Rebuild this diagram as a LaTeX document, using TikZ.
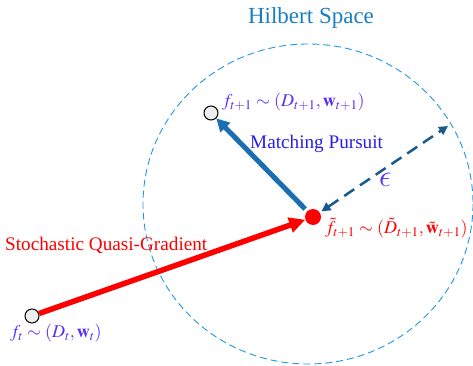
\documentclass[tikz,border=0pt]{standalone}
\usepackage{mathptmx}
\DeclareSymbolFont{lmletters}{OML}{cmm}{m}{it}
\DeclareMathSymbol{\lunateeps}{\mathord}{lmletters}{"0F}
\usepackage{fontspec}
\setmainfont{Liberation Serif}
\usetikzlibrary{arrows.meta}
\definecolor{hilb}{RGB}{30,150,230}
\definecolor{hilbtxt}{RGB}{25,125,195}
\definecolor{mpblue}{RGB}{25,110,180}
\definecolor{epsblue}{RGB}{25,90,140}
\definecolor{lblviolet}{RGB}{90,45,245}
\definecolor{mptxt}{RGB}{40,30,235}
\newcommand{\bigeps}{\scalebox{1.8}{$\lunateeps$}}
\tikzset{
  state/.style={circle,draw=black,line width=1pt,fill=black!7,minimum size=14pt,inner sep=0pt},
  lbl/.style={font=\fontsize{18}{21}\selectfont,inner sep=0pt,anchor=west},
  txt/.style={font=\fontsize{19.2}{22}\selectfont,inner sep=0pt,anchor=west},
}
\begin{document}
\begin{tikzpicture}[x=1pt,y=-1pt]
\useasboundingbox (0,0) rectangle (473,366);
\draw[hilb,dashed,dash pattern=on 7pt off 4pt,line width=0.9pt] (308,204) ellipse [x radius=165,y radius=160];
\node[font=\fontsize{23}{26}\selectfont,text=hilbtxt,inner sep=0pt] (hs) at (311,18) {Hilbert Space};
\node[state] (fu) at (211,113) {};
\node[state] (fl) at (32,316) {};
\node[circle,fill=red,minimum size=16pt,inner sep=0pt] (fd) at (313,217) {};
\coordinate (eps) at (448,126);
\draw[red,line width=5.5pt,-{Triangle[length=16pt,width=15pt]}] (fl) -- (fd);
\draw[mpblue,line width=5pt,-{Triangle[length=13pt,width=13pt]},shorten <=3pt] (fd) -- (fu);
\draw[epsblue,line width=2.5pt,dashed,dash pattern=on 12pt off 7pt,{Triangle[length=9pt,width=9pt]}-{Triangle[length=9pt,width=9pt]},shorten <=2pt] (fd) -- (eps);
\node[lbl,text=lblviolet] (le) at (379,180) {\bigeps};
\node[lbl,text=lblviolet] (lu) at (222,102) {$f_{t+1}\sim(D_{t+1},\mathbf{w}_{t+1})$};
\node[txt,text=mptxt] (mp) at (250,144) {Matching Pursuit};
\node[lbl,text=red] (ld) at (325,228) {$\tilde f_{t+1}\sim(\tilde D_{t+1},\tilde{\mathbf{w}}_{t+1})$};
\node[txt,text=red] (sq) at (5,245) {Stochastic Quasi-Gradient};
\node[lbl,text=lblviolet] (ll) at (10,333) {$f_{t}\sim(D_{t},\mathbf{w}_{t})$};
\end{tikzpicture}
\end{document}
